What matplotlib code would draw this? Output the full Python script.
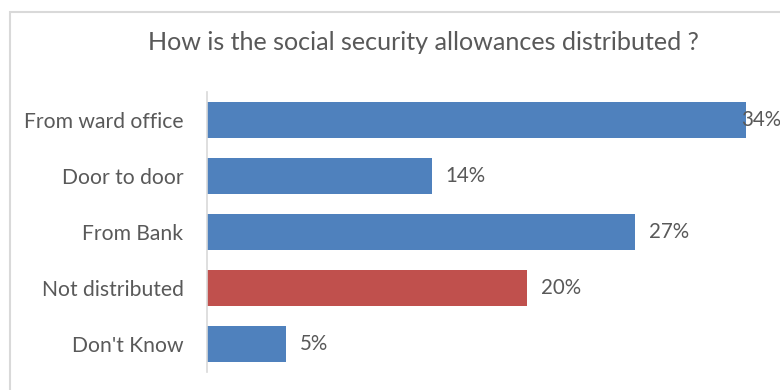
import matplotlib
matplotlib.use("Agg")
import matplotlib.pyplot as plt
from matplotlib.patches import Rectangle

categories = ["From ward office", "Door to door", "From Bank", "Not distributed", "Don't Know"]
values = [34, 14.2, 27, 20.2, 5]
labels = ["34%", "14%", "27%", "20%", "5%"]
colors = ["#4F81BD", "#4F81BD", "#4F81BD", "#C0504D", "#4F81BD"]
title = "How is the social security allowances distributed ?"

plt.rcParams['font.family'] = ['Lato', 'DejaVu Sans']
fig = plt.figure(figsize=(7.8, 3.9), dpi=100)
ax = fig.add_axes([207/780, 1-372/390, 555/780, 280/390])

y = list(range(len(categories)))
ax.barh(y, values, height=0.66, color=colors)
for yi, v, lab in zip(y, values, labels):
    off = -0.3 if v > 33 else 0.85
    ax.text(v + off, yi, lab, va='center', ha='left', fontsize=14.8, color='#595959', clip_on=False)

ax.set_xlim(0, 35)
ax.set_ylim(4.5, -0.5)
ax.set_yticks(y)
ax.set_yticklabels(categories, fontsize=15.2, color='#595959')
ax.tick_params(axis='y', length=0, pad=17)
ax.set_xticks([])
for s in ['top', 'right', 'bottom']:
    ax.spines[s].set_visible(False)
ax.spines['left'].set_color('#D9D9D9')
ax.spines['left'].set_linewidth(1.2)

fig.text(423/780, 1-42/390, title, ha='center', va='center', fontsize=18.1, color='#595959')

fig.patches.append(Rectangle((10/780, -0.1), 1.2, (390-12)/390 + 0.1, transform=fig.transFigure,
                             fill=False, edgecolor='#D9D9D9', linewidth=1.5))

fig.savefig("out.png", dpi=100)
